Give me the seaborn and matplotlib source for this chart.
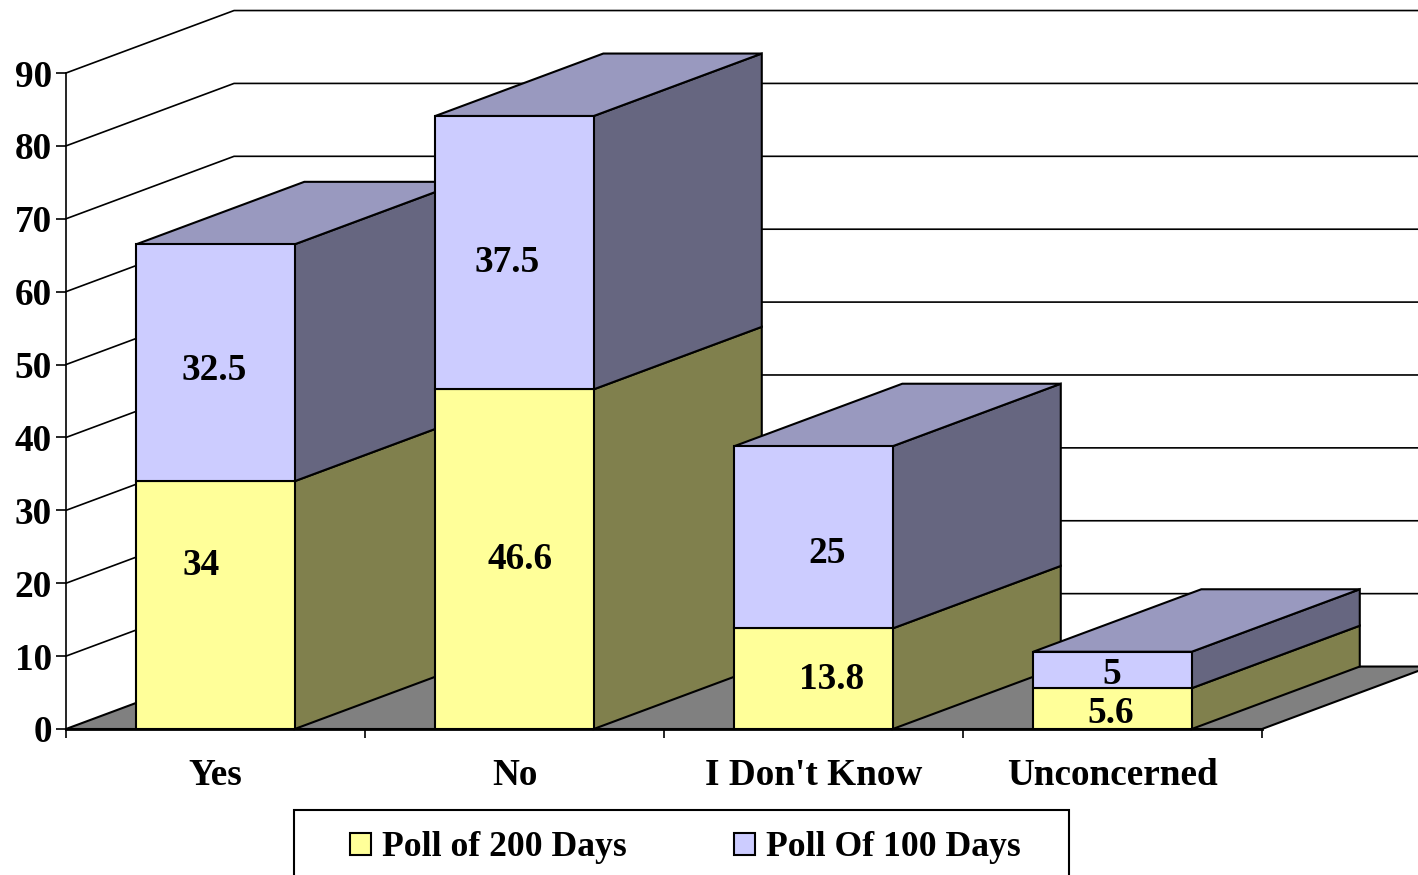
import matplotlib
matplotlib.use("Agg")
import matplotlib.pyplot as plt
import pandas as pd
import seaborn as sns
from matplotlib.patches import Polygon, Rectangle

# valores
respostas = ["Yes", "No", "I Don't Know", "Unconcerned"]
poll_200 = [34, 46.6, 13.8, 5.6]
poll_100 = [32.5, 37.5, 25, 5]
y_ticks = [0, 10, 20, 30, 40, 50, 60, 70, 80, 90]

# deslocamento dos rotulos em pixels, como no original
desloc_200 = [(-14.5, 40), (5.5, 0), (18, -1), (-1.5, -5)]
desloc_100 = [(-1.5, -8), (-7.5, -10), (13.5, -16), (-1, -5)]

# profundidade do efeito 3D em unidades dos eixos
DX = 0.562
DY = 8.57
W, H = 1418, 875
FONTE = 26.8
FONTE_LEGENDA = 25.7
LW = 1.5

sns.set_theme(style="white")
plt.rcParams["font.family"] = ["Liberation Serif", "DejaVu Serif"]
plt.rcParams["font.weight"] = "bold"

df = pd.DataFrame({"resposta": respostas, "p200": poll_200, "p100": poll_100})

fig = plt.figure(figsize=(W / 100, H / 100), dpi=100)
ax = fig.add_axes([66 / W, 1 - 729 / H, (1262 - 66) / W, (729 - 73) / H])

estilo = dict(width=0.53, saturation=1, errorbar=None, edgecolor="black", linewidth=LW, clip_on=False)
sns.barplot(data=df, x="resposta", y="p200", color="#FFFF99", ax=ax, **estilo)
sns.barplot(data=df, x="resposta", y="p100", bottom=df["p200"].values, color="#CCCCFF", ax=ax, **estilo)

ax.set_xlim(-0.5, 3.5)
ax.set_ylim(0, 90)
ax.set(xlabel=None, ylabel=None)
ax.set_yticks(y_ticks)
ax.set_xticks([-0.5, 0.5, 1.5, 2.5, 3.5], minor=True)
ax.tick_params(axis="y", which="major", left=True, length=7.5, width=1.2, color="black",
               labelsize=FONTE, labelcolor="black", pad=2.6)
ax.tick_params(axis="x", which="minor", bottom=True, length=6.5, width=1.2, color="black")
ax.tick_params(axis="x", which="major", bottom=False, length=0, labelsize=FONTE,
               labelcolor="black", pad=21)

for lado in ["top", "right"]:
    ax.spines[lado].set_visible(False)
ax.spines["left"].set_color("black")
ax.spines["left"].set_linewidth(1.2)
ax.spines["bottom"].set_color("black")
ax.spines["bottom"].set_linewidth(2)
ax.spines["bottom"].set_zorder(30)

# grade na parede de fundo
for y in y_ticks[1:]:
    ax.plot([-0.5, -0.5 + DX, 3.5 + DX], [y, y + DY, y + DY], color="black", lw=1.2,
            clip_on=False, zorder=1)

# chao
ax.add_patch(Polygon([(-0.5, 0), (3.5, 0), (3.5 + DX, DY), (-0.5 + DX, DY)], closed=True,
                     facecolor="#808080", edgecolor="black", lw=LW, clip_on=False, zorder=1.5))


def caixa_3d(barra, ordem, cor_lado, cor_topo=None):
    # desenha a lateral e o topo de um segmento da barra
    x0 = barra.get_x() + barra.get_width()
    x_esq = barra.get_x()
    y0 = barra.get_y()
    y1 = y0 + barra.get_height()
    ax.add_patch(Polygon([(x0, y0), (x0 + DX, y0 + DY), (x0 + DX, y1 + DY), (x0, y1)], closed=True,
                         facecolor=cor_lado, edgecolor="black", lw=LW, clip_on=False, zorder=ordem))
    if cor_topo:
        ax.add_patch(Polygon([(x_esq, y1), (x_esq + DX, y1 + DY), (x0 + DX, y1 + DY), (x0, y1)], closed=True,
                             facecolor=cor_topo, edgecolor="black", lw=LW, clip_on=False, zorder=ordem))
    barra.set_zorder(ordem + 0.5)


barras_200 = ax.patches[:4]
barras_100 = ax.patches[4:8]
for i in range(4):
    ordem = 3 + i
    caixa_3d(barras_200[i], ordem, "#80804D")
    caixa_3d(barras_100[i], ordem, "#666680", "#9999BF")

# rotulos de dados
for i in range(4):
    ax.annotate(str(poll_200[i]), (i, poll_200[i] / 2), xytext=desloc_200[i], textcoords="offset pixels",
                ha="center", va="center", fontsize=FONTE, color="black", zorder=20)
    ax.annotate(str(poll_100[i]), (i, poll_200[i] + poll_100[i] / 2), xytext=desloc_100[i],
                textcoords="offset pixels", ha="center", va="center", fontsize=FONTE, color="black", zorder=20)

# legenda: a moldura passa da borda inferior da imagem
fig.add_artist(Rectangle((294 / W, -0.05), (1069 - 294) / W, 1 - 810 / H + 0.05, transform=fig.transFigure,
                         facecolor="none", edgecolor="black", lw=LW))
ax.legend([barras_200[0], barras_100[0]], ["Poll of 200 Days", "Poll Of 100 Days"], ncol=2, loc="center",
          bbox_to_anchor=(685 / W, 1 - 848 / H), bbox_transform=fig.transFigure, frameon=False,
          fontsize=FONTE_LEGENDA, labelcolor="black", handlelength=0.59, handleheight=0.59, handletextpad=0.31,
          columnspacing=3.0, borderpad=0, borderaxespad=0)

fig.savefig("out.png", dpi=100)
plt.close(fig)
